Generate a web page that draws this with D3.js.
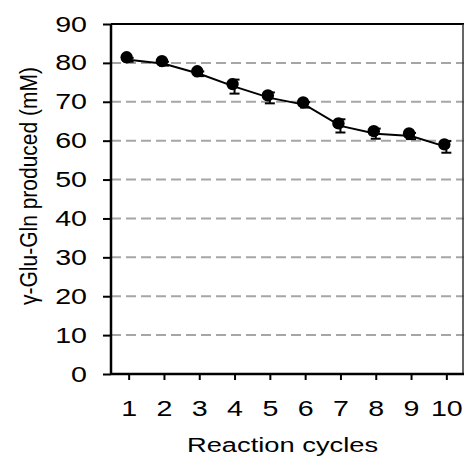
<!DOCTYPE html>
<html>
<head>
<meta charset="utf-8">
<script src="https://cdn.jsdelivr.net/npm/d3@7"></script>
<style>
  body { margin: 0; background: #fff; }
  text { font-family: "Liberation Sans", Arial, sans-serif; fill: #000; }
</style>
</head>
<body>
<div id="Chart"></div>
<script>
var cycles = [1, 2, 3, 4, 5, 6, 7, 8, 9, 10];
var produced = [80.8, 79.8, 77.2, 73.9, 71.0, 69.2, 63.8, 61.8, 61.2, 58.4];
var errors = [0.5, 0.5, 0.6, 1.8, 1.4, 0.7, 1.7, 1.3, 0.8, 1.5];
var yTicks = [0, 10, 20, 30, 40, 50, 60, 70, 80, 90];

var margin = {top: 24, right: 1, bottom: 86, left: 111},
    width = 465 - margin.left - margin.right,
    height = 460 - margin.top - margin.bottom;

// text in the original is a bit wider than tall
var stretch = 1.3;

var svg = d3.select("#Chart")
            .append("svg")
            .attr("width", width + margin.left + margin.right)
            .attr("height", height + margin.top + margin.bottom);
var g = svg.append("g").attr("transform", "translate(" + margin.left + "," + margin.top + ")");

var x = d3.scaleLinear().domain([0.5, 10.5]).range([0, width]);
var y = d3.scaleLinear().domain([0, 90]).range([height, 0]);

// dashed grid lines
g.selectAll(".grid")
 .data(yTicks.filter(d => d > 0 && d < 90))
 .enter().append("line")
 .attr("class", "grid")
 .attr("x1", 0).attr("x2", width)
 .attr("y1", d => y(d)).attr("y2", d => y(d))
 .attr("stroke", "#a6a6a6")
 .attr("stroke-width", 2)
 .attr("stroke-dasharray", "10,5");

// frame top and right
g.append("line").attr("x1", 0).attr("x2", width).attr("y1", 0).attr("y2", 0)
 .attr("stroke", "#000").attr("stroke-width", 2);
g.append("line").attr("x1", width - 1).attr("x2", width - 1).attr("y1", 0).attr("y2", height)
 .attr("stroke", "#333").attr("stroke-width", 1.5);

// axes
var yAxis = g.append("g")
             .call(d3.axisLeft(y).tickValues(yTicks).tickSize(8));
var xAxis = g.append("g")
             .attr("transform", "translate(0," + height + ")")
             .call(d3.axisBottom(x).tickValues(cycles).tickSize(6));

[yAxis, xAxis].forEach(function(a){
    a.select(".domain").attr("stroke", "#000").attr("stroke-width", 2.5);
    a.selectAll(".tick line").attr("stroke", "#000").attr("stroke-width", 2);
    a.selectAll(".tick text").style("font-size", "22px").attr("font-family", "Liberation Sans, Arial, sans-serif");
});
xAxis.select(".domain").attr("d", "M0,0H" + width);
yAxis.select(".domain").attr("d", "M0," + height + "V0");

yAxis.selectAll(".tick text")
     .attr("x", 0)
     .attr("transform", "translate(-24,0) scale(" + stretch + ",1)");
xAxis.selectAll(".tick text")
     .attr("y", 0)
     .attr("transform", "translate(0,26) scale(" + stretch + ",1)");

// line
var line = d3.line().x((d, i) => x(cycles[i])).y(d => y(d));
g.append("path")
 .datum(produced)
 .attr("d", line)
 .attr("fill", "none")
 .attr("stroke", "#000")
 .attr("stroke-width", 2);

// error bars
var eb = g.selectAll(".err")
          .data(produced)
          .enter().append("g")
          .attr("class", "err");
eb.append("line")
  .attr("x1", (d, i) => x(cycles[i])).attr("x2", (d, i) => x(cycles[i]))
  .attr("y1", (d, i) => y(d - errors[i])).attr("y2", (d, i) => y(d + errors[i]))
  .attr("stroke", "#000").attr("stroke-width", 2);
[-1, 1].forEach(function(s){
    eb.append("line")
      .attr("x1", (d, i) => x(cycles[i]) - 5).attr("x2", (d, i) => x(cycles[i]) + 5)
      .attr("y1", (d, i) => y(d + s * errors[i])).attr("y2", (d, i) => y(d + s * errors[i]))
      .attr("stroke", "#000").attr("stroke-width", 2);
});

// markers
g.selectAll(".dot")
 .data(produced)
 .enter().append("circle")
 .attr("class", "dot")
 .attr("cx", (d, i) => x(cycles[i]) - 2)
 .attr("cy", d => y(d) - 2.5)
 .attr("r", 6.2)
 .attr("fill", "#000");

// axis titles
svg.append("text")
   .attr("transform", "translate(" + (margin.left + width / 2 - 5) + ",452) scale(" + stretch + ",1)")
   .attr("text-anchor", "middle")
   .style("font-size", "21px")
   .text("Reaction cycles");

svg.append("text")
   .attr("transform", "translate(37,186) scale(1.15,1) rotate(-90)")
   .attr("text-anchor", "middle")
   .style("font-size", "21px")
   .text("γ-Glu-Gln produced (mM)");
</script>
</body>
</html>
